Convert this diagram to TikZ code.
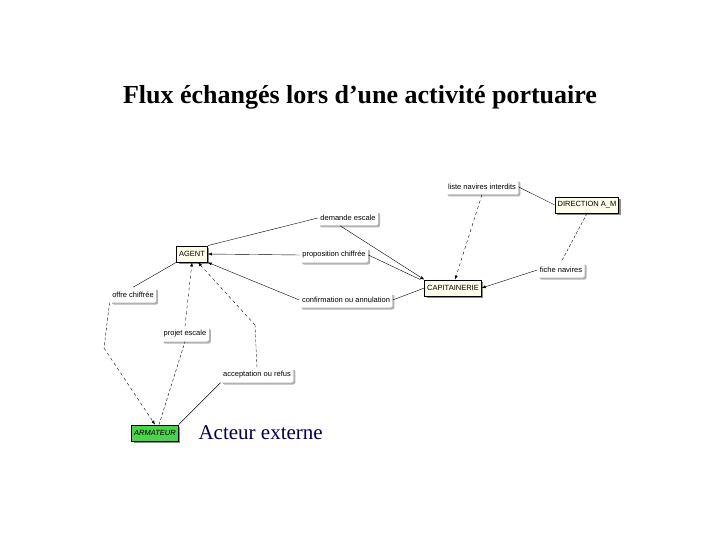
\documentclass[tikz,border=0pt]{standalone}
\usepackage{fontspec}
\setmainfont{Liberation Serif}
\newfontfamily\lab{Liberation Sans}
\usetikzlibrary{arrows.meta}
\tikzset{
  lbl/.style={font=\lab\fontsize{7.5}{8}\selectfont, fill=white, rounded corners=2pt, inner sep=2.5pt, minimum height=15pt,
    preaction={fill=black!30, transform canvas={shift={(2pt,-2pt)}}}},
  act/.style={draw, thick, fill=yellow!8, font=\lab\fontsize{7.5}{8}\selectfont, inner sep=2.5pt, minimum height=16pt,
    preaction={fill=black!45, transform canvas={shift={(2pt,-2pt)}}}},
  ln/.style={thin},
  ar/.style={thin,-{Latex[length=4pt,width=3pt]}},
  dl/.style={thin,dash pattern=on 3pt off 2pt},
}
\begin{document}
\begin{tikzpicture}[x=1pt,y=-1pt]
\useasboundingbox (0,0) rectangle (720,540);
\node[font=\bfseries\fontsize{26}{30}\selectfont] (title) at (360,97) {Flux échangés lors d’une activité portuaire};
\node[act] (agent) at (192,254) {AGENT};
\node[act] (cap) at (453,288) {CAPITAINERIE};
\node[act] (dir) at (587,205) {DIRECTION A\_M};
\node[act, fill=green!75!black!70, font=\lab\itshape\fontsize{7.5}{8}\selectfont] (arm) at (155,433) {ARMATEUR};
\node[anchor=west, font=\fontsize{21}{24}\selectfont, text=blue!30!black] (ext) at (195,433) {Acteur externe};
\node[lbl] (liste) at (482,187) {liste navires interdits};
\node[lbl] (dem) at (348,218) {demande escale};
\node[lbl] (prop) at (334,255) {proposition chiffrée};
\node[lbl] (conf) at (346,300) {confirmation ou annulation};
\node[lbl] (fiche) at (561,270) {fiche navires};
\node[lbl] (offre) at (133,295) {offre chiffrée};
\node[lbl] (projet) at (185,334) {projet escale};
\node[lbl] (acc) at (257,375) {acceptation ou refus};
\coordinate (o1) at (104,348);
\coordinate (a1) at (255,325);
\draw[ln] (agent.north east) -- (dem.west);
\draw[ar] ([xshift=-8pt]dem.south) -- (cap.north west);
\draw[ln] ([xshift=-4pt]cap.north west) -- (prop.east);
\draw[ar] (prop.west) -- (agent.east);
\draw[ln] (cap.west) -- (conf.east);
\draw[ar] (conf.west) -- (agent.south east);
\draw[ln] (dir.west) -- (liste.east);
\draw[ar,dashed] (liste.south) -- ([xshift=2pt]cap.north);
\draw[dl] (dir.south) -- (fiche.north);
\draw[ar] (fiche.west) -- (cap.east);
\draw[ln] (agent.south west) -- (offre.north);
\draw[dl] (offre.south west) -- (o1);
\draw[ar,dashed] (o1) -- (arm.north);
\draw[dl] ([xshift=4pt]arm.north) -- (projet.south);
\draw[ar,dashed] (projet.north) -- (agent.south);
\draw[ln] (arm.north east) -- (acc.south west);
\draw[dl] (acc.north) -- (a1);
\draw[ar,dashed] (a1) -- ([xshift=6pt]agent.south);
\end{tikzpicture}
\end{document}
